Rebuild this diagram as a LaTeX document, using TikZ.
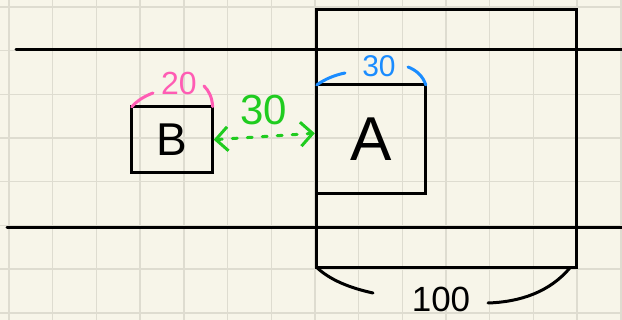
\documentclass[tikz,border=0pt]{standalone}
\usepackage{fontspec}
\setmainfont{Liberation Sans}
\usetikzlibrary{arrows.meta}
\definecolor{paper}{HTML}{F7F5E9}
\definecolor{gridc}{HTML}{DEDCD0}
\definecolor{pinkc}{HTML}{FF5CB4}
\definecolor{bluec}{HTML}{1A8CFF}
\definecolor{greenc}{HTML}{1FCC1F}
\tikzset{
  ink/.style={line width=3pt, line cap=round, line join=round},
  boxnode/.style={draw, line width=3pt, inner sep=0pt, outer sep=0pt},
  lbl/.style={inner sep=0pt, outer sep=0pt},
}
\begin{document}
\begin{tikzpicture}[x=1pt,y=-1pt]
\fill[paper] (0,0) rectangle (622,320);
\useasboundingbox (0,0) rectangle (622,320);
% grid
\foreach \i in {0,...,14} {
  \draw[gridc, line width=1.4pt] ({9+43.7*\i},0) -- ({9+43.7*\i},320);
}
\foreach \j in {0,...,7} {
  \draw[gridc, line width=1.4pt] (0,{7+43.7*\j}) -- (622,{7+43.7*\j});
}
% road lines
\coordinate (t1) at (16,50);
\coordinate (t2) at (622,50);
\coordinate (b1) at (7,228);
\coordinate (b2) at (622,228);
\draw[ink] (t1) -- (t2);
\draw[ink] (b1) -- (b2);
% boxes
\node[boxnode, minimum width=259.5pt, minimum height=257.5pt] (big) at (446.5,138.7) {};
\node[boxnode, minimum width=109pt, minimum height=108.7pt, font=\fontsize{62}{62}\selectfont] (A) at (371.3,139.3) {\raisebox{-4pt}{A}};
\node[boxnode, minimum width=81pt, minimum height=66pt, font=\fontsize{46}{46}\selectfont] (B) at (172.2,139.7) {B};
% pink 20
\coordinate (p1) at (153,93);
\coordinate (p2) at (204,86);
\draw[ink, pinkc] (B.north west) .. controls (138,100) and (145,96) .. (p1);
\draw[ink, pinkc] (p2) .. controls (209,91) and (212,97) .. (B.north east);
\node[lbl, pinkc, font=\fontsize{32}{32}\selectfont] (t20) at (179,83) {20};
% blue 30
\coordinate (q1) at (345,73);
\coordinate (q2) at (408,67);
\draw[ink, bluec] (A.north west) .. controls (325,79) and (335,75) .. (q1);
\draw[ink, bluec] (q2) .. controls (416,70) and (423,76) .. (A.north east);
\node[lbl, bluec, font=\fontsize{30}{30}\selectfont] (t30b) at (379,66) {30};
% green 30
\draw[line width=3pt, greenc, line cap=round, dash pattern=on 5pt off 10pt,
  {Straight Barb[length=12pt,width=24pt,line width=3pt]}-{Straight Barb[length=12pt,width=24pt,line width=3pt]}]
  ([xshift=1pt]B.east) -- ([yshift=6pt,xshift=-2pt]A.west);
\node[lbl, greenc, font=\fontsize{42}{42}\selectfont] (t30g) at (264,110) {30};
% bottom 100
\coordinate (r1) at (373,293);
\coordinate (r2) at (488,303);
\draw[ink] (big.south west) .. controls (330,280) and (350,288) .. (r1);
\draw[ink] (r2) .. controls (520,302) and (550,292) .. ([xshift=-6pt]big.south east);
\node[lbl, font=\fontsize{35}{35}\selectfont] (t100) at (441,299) {100};
\end{tikzpicture}
\end{document}
